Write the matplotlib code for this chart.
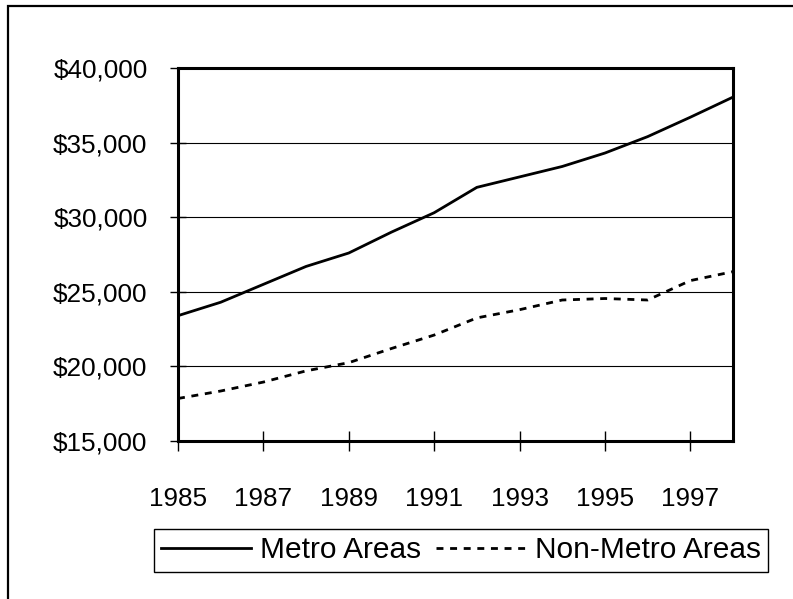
import numpy as np
import matplotlib
matplotlib.use("Agg")
import matplotlib.pyplot as plt
from matplotlib.patches import Rectangle
from matplotlib.ticker import FuncFormatter

plt.rcParams['font.family'] = ['Liberation Sans', 'DejaVu Sans']

years = [1985, 1986, 1987, 1988, 1989, 1990, 1991, 1992, 1993, 1994, 1995, 1996, 1997, 1998]
metro = [23400, 24300, 25500, 26700, 27600, 29000, 30300, 32000, 32700, 33400, 34300, 35400, 36700, 38050]
non_metro = [17850, 18350, 18950, 19700, 20250, 21200, 22100, 23250, 23800, 24450, 24550, 24450, 25750, 26350]
xticks = [1985, 1987, 1989, 1991, 1993, 1995, 1997]
yticks = [15000, 20000, 25000, 30000, 35000, 40000]

fig = plt.figure(figsize=(7.93, 5.99), dpi=100)
ax = fig.add_axes([178/793, 1-441/599, (733-178)/793, (441-68)/599])

ax.plot(years, metro, color='black', lw=2.0, label='Metro Areas')
ax.plot(years, non_metro, color='black', lw=2.0, linestyle=(0, (2.5, 2.4)), label='Non-Metro Areas')

ax.set_xlim(1985, 1998)
ax.set_ylim(15000, 40000)
ax.set_xticks(xticks)
ax.set_yticks(yticks)
ax.yaxis.set_major_formatter(FuncFormatter(lambda v, p: '${:,.0f}'.format(v)))
ax.grid(axis='y', color='black', lw=0.8)
ax.set_axisbelow(True)
for s in ax.spines.values():
    s.set_linewidth(2.2)
ax.tick_params(axis='x', direction='inout', length=14, width=1, labelsize=18.8, pad=26)
ax.tick_params(axis='y', direction='inout', length=12, width=1, labelsize=18.8, pad=16)

# outer frame (only top and left edges fall inside the image)
fig.patches.append(Rectangle((8/793, -0.1), 1.2, (599-6)/599 + 0.1, transform=fig.transFigure,
                             fill=False, edgecolor='black', lw=1.6))

leg = fig.legend(loc='center', bbox_to_anchor=((150+772)/2/793, 1-550.5/599), ncol=2,
                 fontsize=21.5, handlelength=3.0, handletextpad=0.3, columnspacing=0.5,
                 borderpad=0.25, fancybox=False, edgecolor='black', framealpha=1)
leg.get_frame().set_linewidth(1.0)

fig.savefig('out.png', dpi=100)
